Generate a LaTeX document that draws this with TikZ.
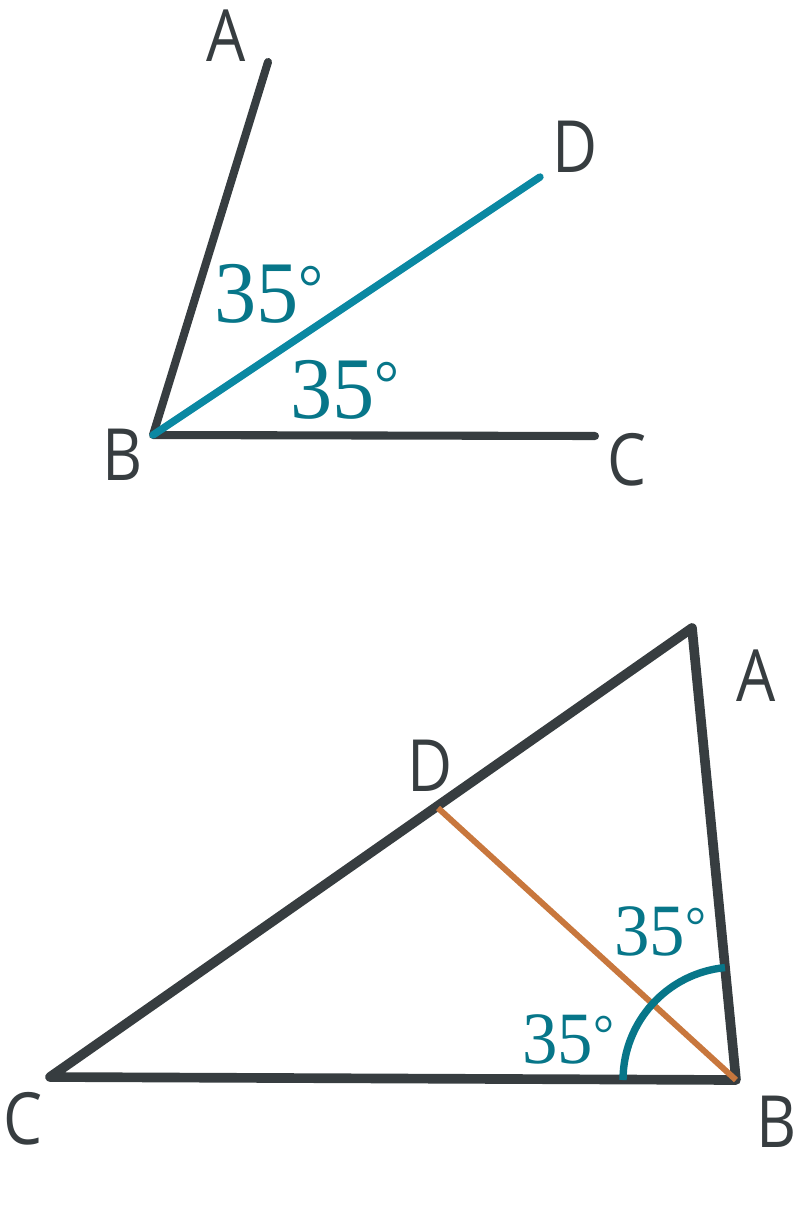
\documentclass[tikz,border=0pt]{standalone}
\usepackage{fontspec}
\newfontfamily\labelfont{Open Sans}[FakeStretch=0.86]
\newfontfamily\degfont{Liberation Serif}[FakeStretch=0.96]
\definecolor{darkline}{HTML}{373D40}
\definecolor{tealline}{HTML}{0A88A2}
\definecolor{tealtext}{HTML}{077689}
\definecolor{orangeline}{HTML}{C8773D}
\newcommand{\degsign}{{\fontsize{0.74em}{0.74em}\selectfont\raisebox{0.2em}{°}}}
\tikzset{
  ptlabel/.style={font=\labelfont\fontsize{41}{41}\selectfont, text=darkline, inner sep=0pt},
  degtop/.style={font=\degfont\fontsize{50}{50}\selectfont, text=tealtext, inner sep=0pt, anchor=base west},
  degbot/.style={font=\degfont\fontsize{42}{42}\selectfont, text=tealtext, inner sep=0pt, anchor=base west},
  darkseg/.style={draw=darkline, line width=4.6pt, line cap=round, line join=round},
  tri/.style={draw=darkline, line width=5.5pt, line cap=round, line join=round},
  bisect/.style={draw=tealline, line width=4.2pt, line cap=round},
  cevian/.style={draw=orangeline, line width=3.4pt},
  anglearc/.style={draw=tealtext, line width=4.2pt}
}
\begin{document}
\begin{tikzpicture}[x=0.02cm, y=-0.02cm]
\useasboundingbox (0,0) rectangle (800,1208);
% ---------- top figure ----------
\coordinate (tA) at (268,62);
\coordinate (tB) at (153,435);
\coordinate (tC) at (595,436);
\coordinate (tD) at (540,177);
\draw[darkseg] (tA) -- (tB) -- (tC);
\draw[bisect] (tB) -- (tD);
\node[ptlabel] (ltA) at (226,36) {A};
\node[ptlabel] (ltB) at (123,455) {B};
\node[ptlabel] (ltC) at (627,460) {C};
\node[ptlabel] (ltD) at (575,147) {D};
\node[degtop] (dt1) at (214,322) {35\degsign};
\node[degtop] (dt2) at (290,418) {35\degsign};
% ---------- bottom figure ----------
\coordinate (bA) at (692,628);
\coordinate (bB) at (736,1080);
\coordinate (bC) at (50,1077);
\coordinate (bD) at (438,808);
\draw[tri] (bC) -- (bA) -- (bB) -- cycle;
\draw[cevian] (bD) -- (bB);
\draw[anglearc] ([shift={(180:2.26cm)}]bB) arc[start angle=180, end angle=95.6, radius=2.26cm];
\node[ptlabel] (lbA) at (756,676) {A};
\node[ptlabel] (lbB) at (777,1122) {B};
\node[ptlabel] (lbC) at (23,1119) {C};
\node[ptlabel] (lbD) at (430,766) {D};
\node[degbot] (db1) at (614,955) {35\degsign};
\node[degbot] (db2) at (522,1063) {35\degsign};
\end{tikzpicture}
\end{document}
